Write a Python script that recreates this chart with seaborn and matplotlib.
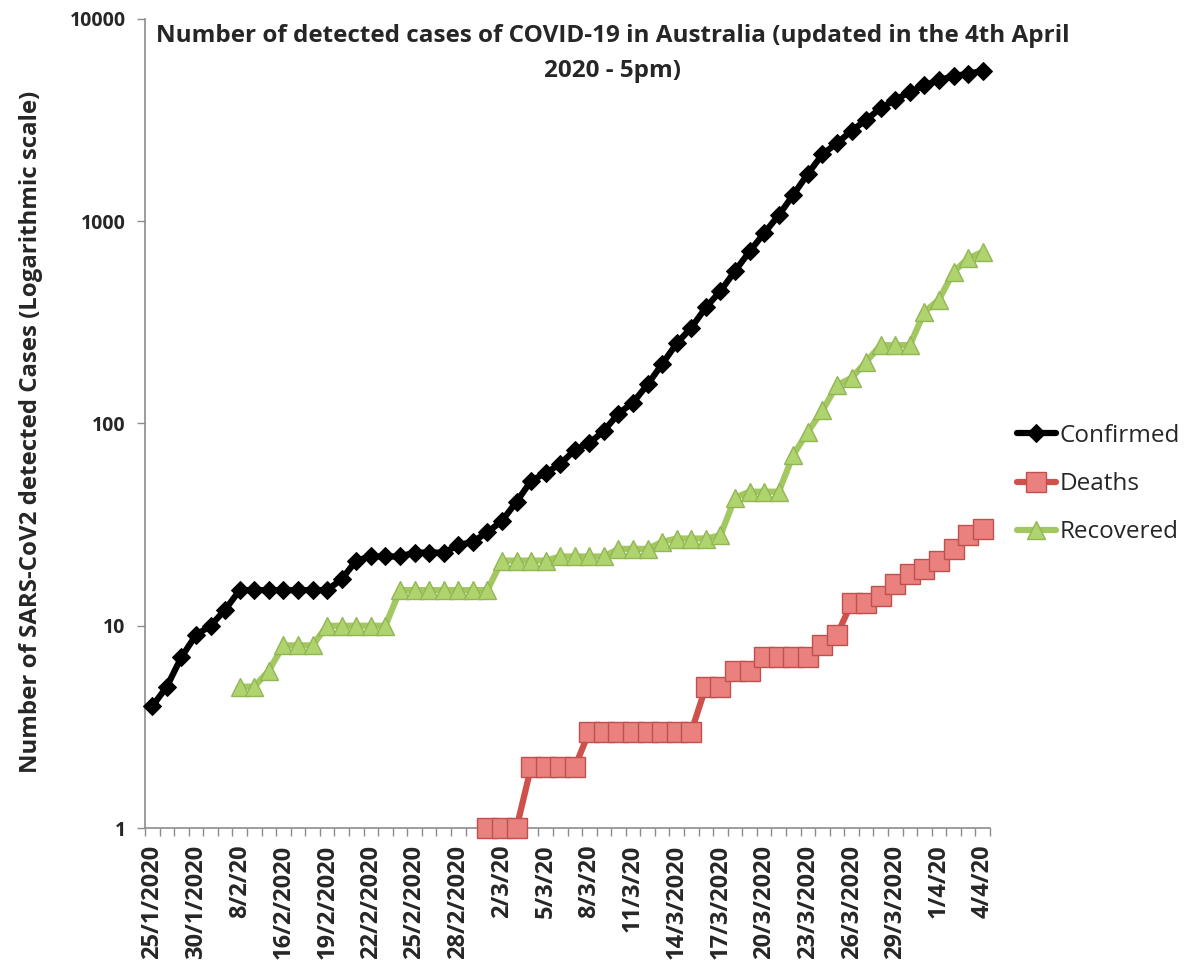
import numpy as np
import pandas as pd
import matplotlib
matplotlib.use("Agg")
import matplotlib.pyplot as plt
import seaborn as sns
from matplotlib.ticker import FixedLocator, NullFormatter, NullLocator

# ---- data ----
dates = ["25/1/2020", "26/1/2020", "28/1/2020", "30/1/2020", "1/2/2020", "4/2/2020",
         "8/2/20", "12/2/20", "14/2/20", "16/2/2020", "17/2/2020", "18/2/2020",
         "19/2/2020", "20/2/2020", "21/2/2020", "22/2/2020", "23/2/2020", "24/2/2020",
         "25/2/2020", "26/2/2020", "27/2/2020", "28/2/2020", "29/2/2020", "1/3/20",
         "2/3/20", "3/3/20", "4/3/20", "5/3/20", "6/3/20", "7/3/20", "8/3/20", "9/3/20",
         "10/3/20", "11/3/20", "12/3/20", "13/3/20", "14/3/2020", "15/3/2020", "16/3/2020",
         "17/3/2020", "18/3/2020", "19/3/2020", "20/3/2020", "21/3/2020", "22/3/2020",
         "23/3/2020", "24/3/2020", "25/3/2020", "26/3/2020", "27/3/2020", "28/3/2020",
         "29/3/2020", "30/3/2020", "31/3/2020", "1/4/20", "2/4/20", "3/4/20", "4/4/20"]

confirmed = [4, 5, 7, 9, 10, 12, 15, 15, 15, 15, 15, 15, 15, 17, 21, 22, 22, 22, 23, 23,
             23, 25, 26, 29, 33, 41, 52, 57, 63, 74, 80, 92, 112, 127, 156, 197, 249, 298,
             375, 452, 568, 709, 874, 1071, 1352, 1716, 2146, 2431, 2805, 3166, 3635, 3985,
             4361, 4707, 4976, 5224, 5358, 5548]

deaths = [np.nan] * 23 + [1, 1, 1, 2, 2, 2, 2, 3, 3, 3, 3, 3, 3, 3, 3, 5, 5, 6, 6, 7, 7, 7,
                          7, 8, 9, 13, 13, 14, 16, 18, 19, 21, 24, 28, 30]

recovered = [np.nan] * 6 + [5, 5, 6, 8, 8, 8, 10, 10, 10, 10, 10, 15, 15, 15, 15, 15, 15, 15,
                            21, 21, 21, 21, 22, 22, 22, 22, 24, 24, 24, 26, 27, 27, 27, 28,
                            43, 46, 46, 46, 70, 91, 116, 155, 168, 202, 244, 244, 244, 356,
                            410, 562, 655, 706]

y_ticks = [1, 10, 100, 1000, 10000]
y_tick_labels = ["1", "10", "100", "1000", "10000"]

title = ("Number of detected cases of COVID-19 in Australia (updated in the 4th April\n"
         "2020 - 5pm)")
ylabel = "Number of SARS-CoV2 detected Cases (Logarithmic scale)"

# ---- style ----
sns.set_style("white")
plt.rcParams["font.family"] = ["Open Sans", "DejaVu Sans"]

W, H = 1200, 971
fig = plt.figure(figsize=(W / 100, H / 100), dpi=100)
ax = fig.add_axes([145 / W, (H - 828) / H, (990 - 145) / W, (828 - 19) / H])

idx = np.arange(len(dates))
df = pd.DataFrame({"idx": idx, "Confirmed": confirmed, "Deaths": deaths,
                   "Recovered": recovered})

sns.lineplot(data=df, x="idx", y="Confirmed", ax=ax, color="black", linewidth=4.5,
             marker="D", markersize=9, markeredgecolor="black", markerfacecolor="black",
             label="Confirmed", clip_on=False, zorder=3)
sns.lineplot(data=df, x="idx", y="Deaths", ax=ax, color="#d0504c", linewidth=4.5,
             marker="s", markersize=14, markeredgecolor="#c0504d",
             markerfacecolor="#ea817e", markeredgewidth=1,
             label="Deaths", clip_on=False, zorder=3)
sns.lineplot(data=df, x="idx", y="Recovered", ax=ax, color="#a3c861", linewidth=4.5,
             marker="^", markersize=13, markeredgecolor="#92b655",
             markerfacecolor="#afd46d", markeredgewidth=1,
             label="Recovered", clip_on=False, zorder=3)

ax.set_yscale("log")
ax.set_ylim(1, 10000)
ax.set_xlim(-0.5, len(dates) - 0.5)

ax.yaxis.set_major_locator(FixedLocator(y_ticks))
ax.set_yticklabels(y_tick_labels, fontsize=14, fontweight="bold")
ax.yaxis.set_minor_locator(NullLocator())
ax.tick_params(axis="y", which="major", direction="out", length=6, width=1,
               color="#8c8c8c", pad=8, left=True)

label_pos = idx[::3]
ax.set_xticks(label_pos)
ax.set_xticklabels([dates[i] for i in label_pos], rotation=90, fontsize=17,
                   fontweight="bold")
ax.xaxis.set_minor_locator(FixedLocator(np.arange(-0.5, len(dates), 1.0)))
ax.xaxis.set_minor_formatter(NullFormatter())
ax.tick_params(axis="x", which="major", length=0, pad=12)
ax.tick_params(axis="x", which="minor", direction="out", length=6, width=1,
               color="#8c8c8c", bottom=True)

for s in ["top", "right"]:
    ax.spines[s].set_visible(False)
for s in ["left", "bottom"]:
    ax.spines[s].set_color("#8c8c8c")
    ax.spines[s].set_linewidth(1.2)

ax.set_xlabel("")
ax.set_ylabel(ylabel, fontsize=17.3, fontweight="bold")
ax.yaxis.set_label_coords((43 - 145) / 845, 0.49)
ax.grid(False)

fig.text(613 / W, 1 - 24 / H, title, ha="center", va="top", fontsize=17.5,
         fontweight="bold", linespacing=1.6)

leg = ax.legend(loc="center left", bbox_to_anchor=(1.0, 0.425), frameon=False,
                fontsize=17.5, handlelength=1.6, handletextpad=0.15, labelspacing=1.0,
                borderaxespad=0.7)

fig.savefig("out.png", dpi=100, facecolor="white")
